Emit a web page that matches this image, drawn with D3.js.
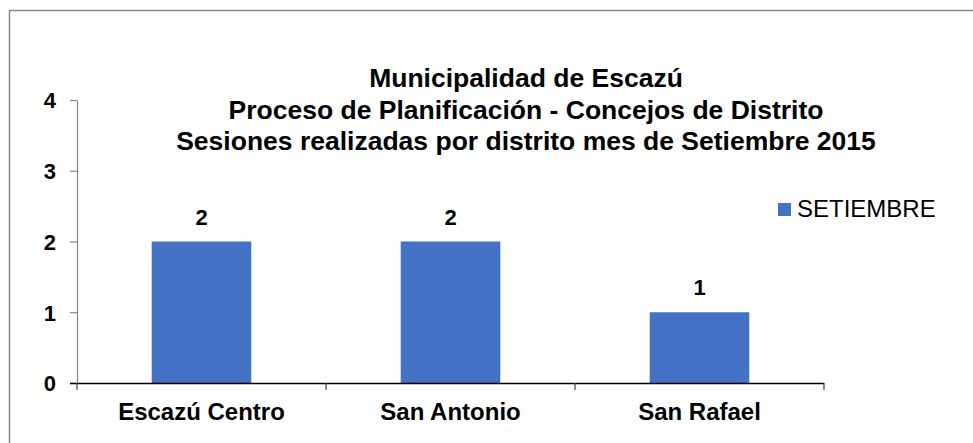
<!DOCTYPE html>
<html>
<head>
<meta charset="utf-8">
<script src="https://cdn.jsdelivr.net/npm/d3@7"></script>
<style>
  body { margin: 0; background: #fff; }
  text { font-family: "Liberation Sans", Arial, sans-serif; fill: #000; }
</style>
</head>
<body>
<div id="chart"></div>
<script>
// Data
const districts = ['Escazú Centro', 'San Antonio', 'San Rafael']
const sessions = [2, 2, 1]
const seriesName = 'SETIEMBRE'
const yTicks = [0, 1, 2, 3, 4]
const titleLines = [
  'Municipalidad de Escazú',
  'Proceso de Planificación - Concejos de Distrito',
  'Sesiones realizadas por distrito mes de Setiembre 2015'
]

;(({ width, height, plot: { top, left, right, bottom }, barColor }) => {
  const svg = d3.select('#chart')
    .append('svg')
    .attr('width', width)
    .attr('height', height)

  // Outer frame (right/bottom edges fall outside the picture)
  svg.append('rect')
    .attr('x', 9.5)
    .attr('y', 10.5)
    .attr('width', width)
    .attr('height', height)
    .attr('fill', 'none')
    .attr('stroke', '#868686')
    .attr('stroke-width', 1.5)

  // Scales
  const x = d3.scaleBand()
    .domain(districts)
    .range([left, right])
    .paddingInner(0.6)
    .paddingOuter(0.3)
  const y = d3.scaleLinear()
    .domain([d3.min(yTicks), d3.max(yTicks)])
    .range([bottom, top])

  // Title
  svg.append('text')
    .attr('text-anchor', 'middle')
    .style('font-size', '26.5px')
    .style('font-weight', 'bold')
    .selectAll('tspan')
    .data(titleLines)
    .enter()
    .append('tspan')
    .attr('x', 526)
    .attr('y', (d, i) => 87 + i * 31.5)
    .text(d => d)

  // Y axis
  const yAxis = svg.append('g')
    .attr('transform', `translate(${left},0)`)
    .call(d3.axisLeft(y).tickValues(yTicks).tickFormat(d3.format('d')).tickSize(7).tickPadding(14).tickSizeOuter(0))
  yAxis.select('.domain').attr('stroke', '#868686').attr('stroke-width', 1.2)
  yAxis.selectAll('.tick line').attr('stroke', '#868686').attr('stroke-width', 1.2)
  yAxis.selectAll('.tick text')
    .style('font-size', '22px')
    .style('font-weight', 'bold')
    .style('font-family', '"Liberation Sans", Arial, sans-serif')
    .attr('fill', '#000')
    .attr('dy', '0.36em')

  // Bars
  svg.selectAll('rect.bar')
    .data(sessions)
    .enter()
    .append('rect')
    .attr('class', 'bar')
    .attr('x', (d, i) => x(districts[i]))
    .attr('width', x.bandwidth())
    .attr('y', d => y(d))
    .attr('height', d => y(0) - y(d))
    .attr('fill', barColor)

  // Data labels
  svg.selectAll('text.value')
    .data(sessions)
    .enter()
    .append('text')
    .attr('class', 'value')
    .attr('text-anchor', 'middle')
    .attr('x', (d, i) => x(districts[i]) + x.bandwidth() / 2)
    .attr('y', d => y(d) - 17)
    .style('font-size', '22px')
    .style('font-weight', 'bold')
    .text(d => d)

  // X axis (category ticks sit between categories)
  const gap = (x.step() - x.bandwidth()) / 2
  const bounds = districts.map(d => x(d) - gap).concat([x(districts[districts.length - 1]) + x.bandwidth() + gap])
  svg.append('line')
    .attr('x1', left - 7)
    .attr('x2', right)
    .attr('y1', y(0) + 0.5)
    .attr('y2', y(0) + 0.5)
    .attr('stroke', '#000')
    .attr('stroke-width', 1.3)
  svg.selectAll('line.xtick')
    .data(bounds)
    .enter()
    .append('line')
    .attr('class', 'xtick')
    .attr('x1', d => d)
    .attr('x2', d => d)
    .attr('y1', y(0))
    .attr('y2', y(0) + 7)
    .attr('stroke', '#404040')
    .attr('stroke-width', 1.2)
  svg.selectAll('text.cat')
    .data(districts)
    .enter()
    .append('text')
    .attr('class', 'cat')
    .attr('text-anchor', 'middle')
    .attr('x', d => x(d) + x.bandwidth() / 2)
    .attr('y', 420)
    .style('font-size', '24px')
    .style('font-weight', 'bold')
    .text(d => d)

  // Legend
  const legend = svg.append('g').attr('transform', 'translate(778,203)')
  legend.append('rect')
    .attr('width', 13)
    .attr('height', 13)
    .attr('fill', barColor)
  legend.append('text')
    .attr('x', 19)
    .attr('y', 14)
    .style('font-size', '24px')
    .text(seriesName)
})({
  width: 973,
  height: 443,
  plot: { top: 100, left: 77, right: 824, bottom: 383 },
  barColor: '#4472C4'
})
</script>
</body>
</html>
